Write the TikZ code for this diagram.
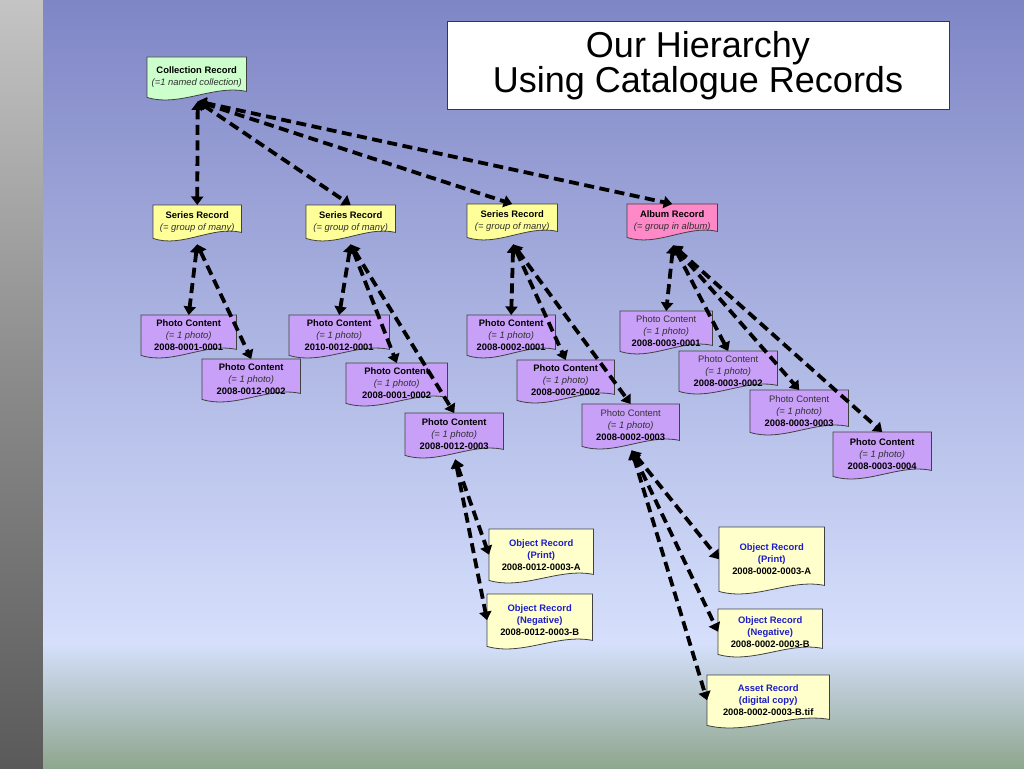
\documentclass[tikz,border=0pt]{standalone}
\usepackage{fontspec}
\setmainfont{Liberation Sans}
\usetikzlibrary{calc,arrows.meta}
\definecolor{phfill}{HTML}{C8A0F8}
\definecolor{serfill}{HTML}{FFFF99}
\definecolor{albfill}{HTML}{FF88C8}
\definecolor{colfill}{HTML}{CCFFCC}
\definecolor{objfill}{HTML}{FFFFCC}
\definecolor{objblue}{HTML}{1C1CC8}
\definecolor{tbord}{HTML}{2828B8}
\definecolor{ittext}{HTML}{303030}
\pgfdeclarelayer{bg}
\pgfdeclarelayer{shapes}
\pgfsetlayers{bg,shapes,main}
\tikzset{
  docn/.style={draw=none, align=center, inner sep=0pt, anchor=north west,
    font=\fontsize{9.4}{12}\selectfont},
  docshape/.style={draw=black!75, line width=0.8pt},
  conn/.style={draw=black, line width=3.8pt, dash pattern=on 10pt off 5.5pt,
    {Triangle[length=8.5pt,width=12pt]}-{Triangle[length=8.5pt,width=12pt]}},
  titlebox/.style={draw=tbord, line width=1pt, fill=white, align=center,
    minimum width=502pt, minimum height=87pt, inner sep=0pt,
    font=\fontsize{36}{32}\selectfont}
}
\newcommand\docbox[7]{%
  \node[docn, minimum width=#4pt, minimum height=#5pt] (#1) at (#2,#3) {#7};
  \begin{pgfonlayer}{shapes}
  \path[docshape, fill=#6] (#1.north west) -- (#1.north east) -- ($(#1.south east)+(0,-6)$)
     .. controls ($(#1.south west)!0.67!(#1.south east)+(0,-13)$) and ($(#1.south west)!0.33!(#1.south east)+(0,10)$) .. (#1.south west) -- cycle;
  \end{pgfonlayer}
}
\newcommand\itl[1]{{\color{ittext}\itshape #1}}
\newcommand\pcb[1]{\textbf{Photo Content}\\\itl{(= 1 photo)}\\\textbf{#1}}
\newcommand\pcr[1]{{\color{black!80}Photo Content}\\\itl{(= 1 photo)}\\\textbf{#1}}
\newcommand\orec[3]{{\color{objblue}\bfseries #1}\\{\color{objblue}\bfseries #2}\\\textbf{#3}}
\begin{document}
\begin{tikzpicture}[x=1pt,y=-1pt]
\useasboundingbox (0,0) rectangle (1024,768);
\begin{pgfonlayer}{bg}
  \shade[top color={rgb,255:red,196;green,196;blue,196}, bottom color={rgb,255:red,138;green,138;blue,138}] (0,0) rectangle (43,384);
  \shade[top color={rgb,255:red,138;green,138;blue,138}, bottom color={rgb,255:red,90;green,90;blue,90}] (0,384) rectangle (43,768);
  \shade[top color={rgb,255:red,127;green,134;blue,198}, bottom color={rgb,255:red,214;green,224;blue,252}] (43,0) rectangle (1024,645);
  \shade[top color={rgb,255:red,212;green,223;blue,250}, bottom color={rgb,255:red,143;green,166;blue,142}] (43,645) rectangle (1024,768);
\end{pgfonlayer}

\node[titlebox] (title) at (698,65.5) {Our Hierarchy\\Using Catalogue Records};

\docbox{coll}{147}{57}{99}{40}{colfill}{\textbf{Collection Record}\\\itl{(=1 named collection)}}
\docbox{s1}{153}{205}{88}{33}{serfill}{\textbf{Series Record}\\\itl{(= group of many)}}
\docbox{s2}{306}{205}{89}{33}{serfill}{\textbf{Series Record}\\\itl{(= group of many)}}
\docbox{s3}{467}{204}{90}{33}{serfill}{\textbf{Series Record}\\\itl{(= group of many)}}
\docbox{alb}{627}{204}{90}{33}{albfill}{\textbf{Album Record}\\\itl{(= group in album)}}

\docbox{p1}{141}{315}{95}{40}{phfill}{\pcb{2008-0001-0001}}
\docbox{p2}{202}{359}{98}{40}{phfill}{\pcb{2008-0012-0002}}
\docbox{p3}{289}{315}{100}{40}{phfill}{\pcb{2010-0012-0001}}
\docbox{p4}{346}{363}{101}{40}{phfill}{\pcb{2008-0001-0002}}
\docbox{p5}{405}{413}{98}{42}{phfill}{\pcb{2008-0012-0003}}
\docbox{p6}{467}{315}{88}{40}{phfill}{\pcb{2008-0002-0001}}
\docbox{p7}{517}{360}{97}{40}{phfill}{\pcb{2008-0002-0002}}
\docbox{p8}{582}{404}{97}{42}{phfill}{\pcr{2008-0002-0003}}
\docbox{p9}{620}{311}{92}{40}{phfill}{\pcr{2008-0003-0001}}
\docbox{p10}{679}{351}{98}{40}{phfill}{\pcr{2008-0003-0002}}
\docbox{p11}{750}{390}{98}{42}{phfill}{\pcr{2008-0003-0003}}
\docbox{p12}{833}{432}{98}{44}{phfill}{\pcb{2008-0003-0004}}

\docbox{o1}{489}{529}{104}{51}{objfill}{\orec{Object Record}{(Print)}{2008-0012-0003-A}}
\docbox{o2}{487}{594}{105}{52}{objfill}{\orec{Object Record}{(Negative)}{2008-0012-0003-B}}
\docbox{o3}{719}{527}{105}{64}{objfill}{\orec{Object Record}{(Print)}{2008-0002-0003-A}}
\docbox{o4}{718}{609}{104}{45}{objfill}{\orec{Object Record}{(Negative)}{2008-0002-0003-B}}
\docbox{o5}{707}{675}{122}{50}{objfill}{\orec{Asset Record}{(digital copy)}{2008-0002-0003-B.tif}}

\coordinate (cb) at ($(coll.south)+(1,4)$);
\coordinate (s1b) at ($(s1.south)+(0,6)$);
\coordinate (s2b) at ($(s2.south)+(0,6)$);
\coordinate (s3b) at ($(s3.south)+(1,7)$);
\coordinate (ab) at ($(alb.south)+(1,8)$);
\coordinate (p5b) at ($(p5.south)+(1,4)$);
\coordinate (p8b) at ($(p8.south)+(1,4)$);

\draw[conn] (cb) -- (s1.north);
\draw[conn] (cb) -- (s2.north);
\draw[conn] (cb) -- (s3.north);
\draw[conn] (cb) -- (alb.north);

\draw[conn] (s1b) -- (p1.north);
\draw[conn] (s1b) -- (p2.north);
\draw[conn] (s2b) -- (p3.north);
\draw[conn] (s2b) -- (p4.north);
\draw[conn] (s2b) -- (p5.north);
\draw[conn] (s3b) -- (p6.north);
\draw[conn] (s3b) -- (p7.north);
\draw[conn] (s3b) -- (p8.north);
\draw[conn] (ab) -- (p9.north);
\draw[conn] (ab) -- (p10.north);
\draw[conn] (ab) -- (p11.north);
\draw[conn] (ab) -- (p12.north);

\draw[conn] (p5b) -- (o1.west);
\draw[conn] (p5b) -- (o2.west);
\draw[conn] (p8b) -- (o3.west);
\draw[conn] (p8b) -- (o4.west);
\draw[conn] (p8b) -- (o5.west);
\end{tikzpicture}
\end{document}
